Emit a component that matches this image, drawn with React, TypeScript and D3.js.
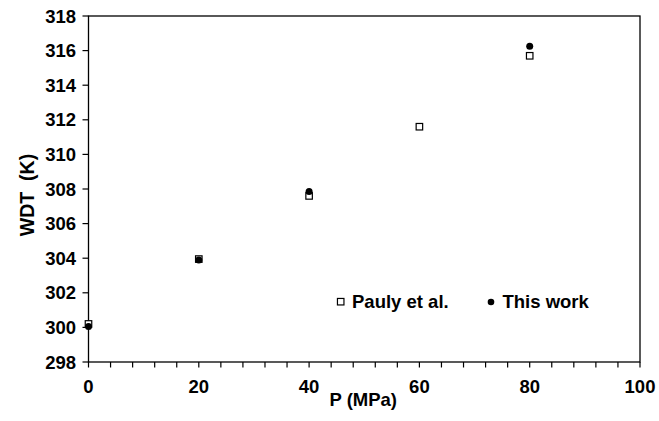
import React from "react";
import * as d3 from "d3";

const paulyP = [0, 20, 40, 60, 80];
const paulyWDT = [300.2, 303.95, 307.6, 311.6, 315.7];
const thisWorkP = [0, 20, 40, 80];
const thisWorkWDT = [300.05, 303.9, 307.85, 316.25];
const xTickLabels = [0, 20, 40, 60, 80, 100];
const xMinorTicks = d3.range(0, 101, 4);
const yTickLabels = [298, 300, 302, 304, 306, 308, 310, 312, 314, 316, 318];

const W = 659;
const H = 421;
const left = 88.5;
const right = 640;
const top = 16;
const bottom = 362;
const FONT = "'Liberation Sans', Arial, Helvetica, sans-serif";

export default function App() {
  const x = d3.scaleLinear().domain([0, 100]).range([left, right]);
  const y = d3.scaleLinear().domain([298, 318]).range([bottom, top]);
  const sq = 6.5;
  return (
    <svg
      width={W}
      height={H}
      style={{ position: "absolute", left: 0, top: 0, background: "#fff" }}
      fontFamily={FONT}
      fontWeight="bold"
    >
      <rect x={0} y={0} width={W} height={H} fill="#fff" />
      {/* frame */}
      <rect x={left} y={top} width={right - left} height={bottom - top} fill="none" stroke="#000" strokeWidth={1.3} />
      {/* x ticks */}
      {xMinorTicks.map((t) => (
        <line key={"xt" + t} x1={x(t)} x2={x(t)} y1={bottom} y2={bottom + 5.5} stroke="#000" strokeWidth={1.2} />
      ))}
      {xTickLabels.map((t) => (
        <text key={"xl" + t} x={x(t)} y={393} textAnchor="middle" fontSize={18.5} fill="#000">
          {t}
        </text>
      ))}
      {/* y ticks */}
      {yTickLabels.map((t) => (
        <g key={"yt" + t}>
          <line x1={left - 6} x2={left} y1={y(t)} y2={y(t)} stroke="#000" strokeWidth={1.2} />
          <text x={76} y={y(t)} dy="0.36em" textAnchor="end" fontSize={18.5} fill="#000">
            {t}
          </text>
        </g>
      ))}
      {/* axis titles */}
      <text x={(left + right) / 2 - 1} y={406} textAnchor="middle" fontSize={18.5} fill="#000">
        P (MPa)
      </text>
      <text
        transform={`translate(34,${(top + bottom) / 2 + 6}) rotate(-90)`}
        textAnchor="middle"
        fontSize={19.5}
        fill="#000"
        style={{ whiteSpace: "pre" }}
      >
        {"WDT  (K)"}
      </text>
      {/* Pauly squares */}
      {paulyP.map((p, i) => (
        <rect
          key={"s" + i}
          x={x(p) - sq / 2}
          y={y(paulyWDT[i]) - sq / 2}
          width={sq}
          height={sq}
          fill="#fff"
          stroke="#000"
          strokeWidth={1.2}
        />
      ))}
      {/* this work circles */}
      {thisWorkP.map((p, i) => (
        <circle key={"c" + i} cx={x(p)} cy={y(thisWorkWDT[i])} r={3.5} fill="#000" />
      ))}
      {/* legend */}
      <rect x={340.7 - sq / 2} y={301.7 - sq / 2} width={sq} height={sq} fill="#fff" stroke="#000" strokeWidth={1.2} />
      <text x={352} y={308} fontSize={18.5} fill="#000">
        Pauly et al.
      </text>
      <circle cx={491} cy={302} r={3.3} fill="#000" />
      <text x={502.5} y={308} fontSize={18.5} fill="#000">
        This work
      </text>
    </svg>
  );
}
